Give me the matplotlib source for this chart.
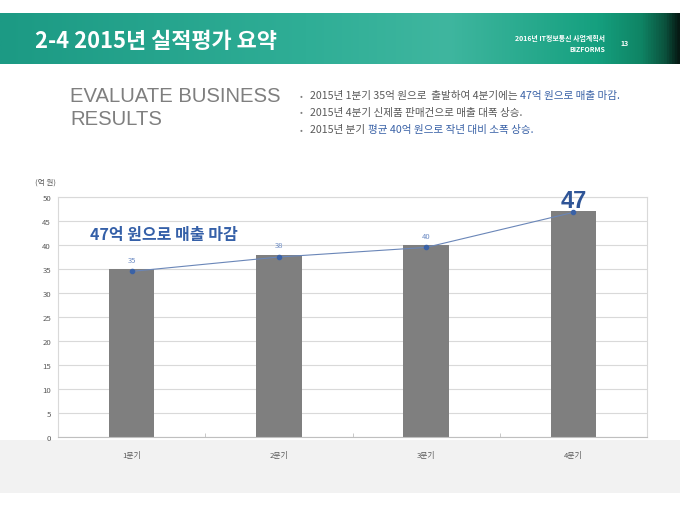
import numpy as np
import matplotlib
matplotlib.use("Agg")
import matplotlib.pyplot as plt
from matplotlib.colors import LinearSegmentedColormap

plt.rcParams['font.family'] = ['Noto Sans CJK KR', 'DejaVu Sans']

# ---- data ----
categories = ["1분기", "2분기", "3분기", "4분기"]
bar_values = [35, 38, 40, 47]
line_values = [34.5, 37.5, 39.5, 46.8]
label_texts = ["35", "38", "40"]
big_label = "47"
y_ticks = [0, 5, 10, 15, 20, 25, 30, 35, 40, 45, 50]

title = "2-4 2015년 실적평가 요약"
doc_name = "2016년 IT정보통신 사업계획서"
brand = "BIZFORMS"
page_no = "13"
headline = "EVALUATE BUSINESS\nRESULTS"
bullets = [
    [("2015년 1분기 35억 원으로  출발하여 4분기에는 ", "#595959"), ("47억 원으로 매출 마감.", "#3a62a7")],
    [("2015년 4분기 신제품 판매건으로 매출 대폭 상승.", "#595959")],
    [("2015년 분기 ", "#595959"), ("평균 40억 원으로 작년 대비 소폭 상승.", "#3a62a7")],
]
annot = "47억 원으로 매출 마감"
unit = "(억 원)"

W, H = 680, 510
fig = plt.figure(figsize=(W / 100, H / 100), dpi=100)
fig.patch.set_facecolor("white")

def fx(px):
    return px / W

def fy(py):
    return 1 - py / H

# ---- header band ----
hax = fig.add_axes([0, fy(65), 1, fy(14) - fy(65)])
hax.set_axis_off()
cmap = LinearSegmentedColormap.from_list(
    "hdr",
    [(0.0, "#1c9a84"), (0.45, "#2fae96"), (0.66, "#3fb69f"), (0.88, "#15a07f"),
     (0.945, "#0f8464"), (0.98, "#0b523d"), (1.0, "#061a14")])
grad = np.linspace(0, 1, 512).reshape(1, -1)
hax.imshow(grad, aspect="auto", cmap=cmap, extent=[0, 1, 0, 1])
hax.set_xlim(0, 1)
hax.set_ylim(0, 1)

fig.text(fx(35), fy(42), title, color="white", fontsize=15.8, fontweight="bold",
         va="center", ha="left")
fig.text(fx(605), fy(38), doc_name, color="white", fontsize=5.0, fontweight="bold",
         va="center", ha="right")
fig.text(fx(605), fy(49), brand, color="white", fontsize=5.0, fontweight="bold",
         va="center", ha="right")
fig.text(fx(625), fy(43), page_no, color="white", fontsize=5.0, fontweight="bold",
         va="center", ha="center")

# ---- headline ----
fig.text(fx(70), fy(108), headline, color="#7f7f7f", fontsize=14.6,
         family=["Liberation Sans", "DejaVu Sans"], va="center", ha="left",
         linespacing=1.3)

# ---- bullets ----
fig.canvas.draw()
renderer = fig.canvas.get_renderer()
for i, segs in enumerate(bullets):
    ypix = 96 + i * 17
    fig.text(fx(300), fy(ypix), "•", color="#7f7f7f", fontsize=6, va="center", ha="left")
    x = 310
    for txt, col in segs:
        t = fig.text(fx(x), fy(ypix), txt, color=col, fontsize=7.65, va="center", ha="left")
        bb = t.get_window_extent(renderer=renderer)
        x += bb.width

# ---- gray band ----
gax = fig.add_axes([0, fy(494), 1, fy(441) - fy(494)], zorder=0)
gax.set_axis_off()
gax.add_patch(plt.Rectangle((0, 0), 1, 1, color="#f2f2f2", transform=gax.transAxes))

# ---- chart ----
ax = fig.add_axes([fx(58), fy(438), fx(647) - fx(58), fy(198) - fy(438)], zorder=2)
ax.set_facecolor("white")
x = np.arange(len(categories))
ax.bar(x, bar_values, width=0.31, color="#7f7f7f", zorder=2)
ax.plot(x, line_values, color="#6a86b8", linewidth=0.8, marker="o", markersize=3,
        markerfacecolor="#3a62a7", markeredgecolor="#3a62a7", zorder=3)
for xi, yv, lab in zip(x[:3], line_values[:3], label_texts):
    ax.annotate(lab, (xi, yv), xytext=(0, 8.5), textcoords="offset points",
                ha="center", va="center", fontsize=5.5, color="#6d8cc4")
ax.annotate(big_label, (x[3], line_values[3]), xytext=(0, 8.5), textcoords="offset points",
            ha="center", va="center", fontsize=17, fontweight="bold", color="#2f5597",
            family=["Liberation Sans", "DejaVu Sans"])
ax.text(fx(90 - 58) / (fx(647) - fx(58)), 42.2, annot, transform=ax.get_yaxis_transform(),
        ha="left", va="center", fontsize=11.5, fontweight="bold", color="#3560a8")

ax.set_xlim(-0.5, len(categories) - 0.5)
ax.set_ylim(0, 50)
ax.set_yticks(y_ticks)
ax.set_yticklabels([str(v) for v in y_ticks], fontsize=5.6, color="#595959")
ax.set_xticks(x)
ax.set_xticklabels(categories, fontsize=5.6, color="#595959")
ax.set_xticks(np.arange(len(categories) + 1) - 0.5, minor=True)
ax.tick_params(axis="x", which="major", length=0, pad=10)
ax.tick_params(axis="x", which="minor", length=3, color="#bfbfbf", direction="in")
ax.tick_params(axis="y", length=0, pad=5)
ax.grid(axis="y", color="#d9d9d9", linewidth=0.8, zorder=0)
ax.set_axisbelow(True)
for side in ["left", "right", "top"]:
    ax.spines[side].set_color("#d9d9d9")
    ax.spines[side].set_linewidth(0.8)
ax.spines["bottom"].set_color("#bfbfbf")
ax.spines["bottom"].set_linewidth(0.8)

fig.text(fx(35), fy(183), unit, fontsize=5.5, color="#595959", va="center", ha="left")

fig.savefig("out.png", dpi=100, facecolor="white")
